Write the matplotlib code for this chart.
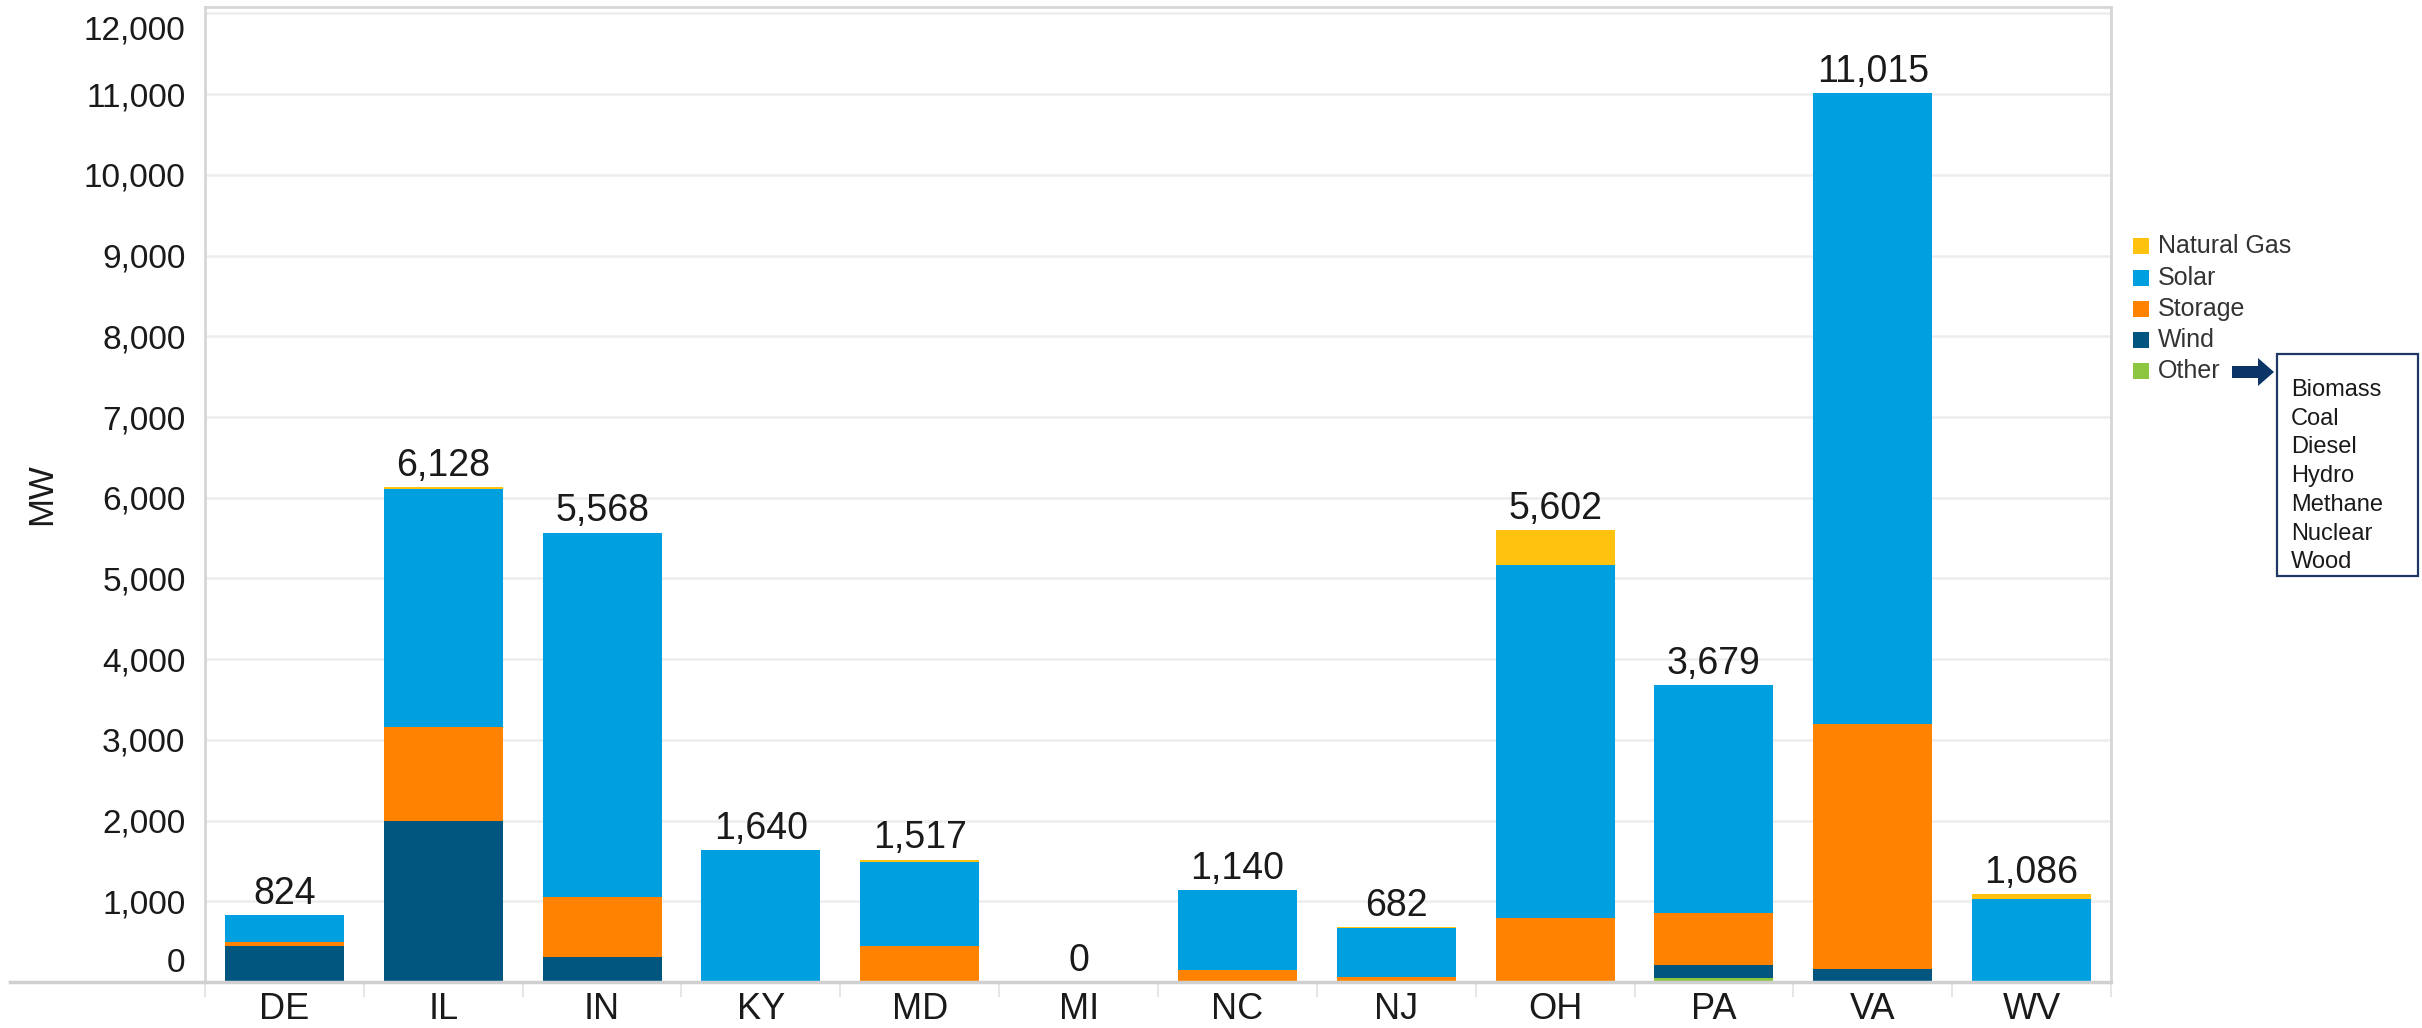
import matplotlib
matplotlib.use("Agg")
import matplotlib.pyplot as plt
import matplotlib.transforms as mtransforms
from matplotlib.patches import Rectangle, Polygon
from matplotlib.lines import Line2D
import numpy as np

plt.rcParams['font.family'] = ['Liberation Sans', 'DejaVu Sans']

# ---------------- data ----------------
states = ['DE', 'IL', 'IN', 'KY', 'MD', 'MI', 'NC', 'NJ', 'OH', 'PA', 'VA', 'WV']
other = [0, 0, 0, 0, 0, 0, 0, 0, 0, 46, 0, 0]
wind = [450, 2000, 312, 0, 0, 0, 0, 0, 0, 169, 160, 0]
storage = [42, 1164, 742, 15, 450, 0, 154, 62, 792, 646, 3040, 0]
solar = [332, 2940, 4514, 1625, 1037, 0, 986, 610, 4371, 2818, 7815, 1033]
natural_gas = [0, 24, 0, 0, 30, 0, 0, 10, 439, 0, 0, 53]

series_names = ['Other', 'Wind', 'Storage', 'Solar', 'Natural Gas']
series_values = [other, wind, storage, solar, natural_gas]
series_colors = ['#8DC63F', '#00567F', '#FF8300', '#00A0E0', '#FFC20E']

other_types = ['Biomass', 'Coal', 'Diesel', 'Hydro', 'Methane', 'Nuclear', 'Wood']
y_ticks = list(range(0, 12001, 1000))

# ---------------- figure ----------------
W, H = 2422, 1028
DPI = 100
fig = plt.figure(figsize=(W / DPI, H / DPI), dpi=DPI)
fig.patch.set_facecolor('white')

def fx(px):
    return px / W

def fy(py):
    return 1 - py / H

ax_left, ax_right, ax_top, ax_bottom = 205, 2111, 7, 982
ax = fig.add_axes([fx(ax_left), fy(ax_bottom), fx(ax_right - ax_left), (ax_bottom - ax_top) / H])

x = np.arange(len(states))
bottom = np.zeros(len(states))
for name, vals, col in zip(series_names, series_values, series_colors):
    v = np.array(vals, dtype=float)
    ax.bar(x, v, bottom=bottom, width=0.75, color=col, edgecolor='none', zorder=3, label=name)
    bottom += v

totals = bottom
for xi, t in zip(x, totals):
    ax.annotate(f"{int(round(t)):,}", (xi, t), xytext=(0, 8), textcoords='offset points',
                ha='center', va='baseline', fontsize=27, color='#1a1a1a', zorder=5)

ax.set_xlim(-0.5, len(states) - 0.5)
ax.set_ylim(0, 12080)
ax.set_yticks(y_ticks)
ax.set_yticklabels([f"{v:,}" for v in y_ticks])
ax.set_xticks(x)
ax.set_xticklabels(states)
ax.set_xticks(np.arange(-0.5, len(states), 1.0), minor=True)

ax.tick_params(axis='y', length=0, pad=14, labelsize=24, labelcolor='#1a1a1a')
ax.tick_params(axis='x', which='major', length=0, pad=7, labelsize=26, labelcolor='#1a1a1a')
ax.tick_params(axis='x', which='minor', length=11, width=1.2, color='#E2E2E2', direction='out')

# shift edge y tick labels like the reference
labels = ax.get_yticklabels()
labels[0].set_transform(labels[0].get_transform() + mtransforms.ScaledTranslation(0, 22 / DPI, fig.dpi_scale_trans))
labels[-1].set_transform(labels[-1].get_transform() + mtransforms.ScaledTranslation(0, -14 / DPI, fig.dpi_scale_trans))

ax.grid(axis='y', color='#EDEDED', linewidth=1.8, zorder=0)
ax.set_axisbelow(True)
for s in ['left', 'top', 'right']:
    ax.spines[s].set_color('#D6D6D6')
    ax.spines[s].set_linewidth(2)
ax.spines['bottom'].set_visible(False)

# baseline extended to the left
fig.add_artist(Line2D([fx(10), fx(ax_right)], [fy(ax_bottom), fy(ax_bottom)],
                      color='#D0D0D0', linewidth=2.5, zorder=4))

ax.set_ylabel('MW', fontsize=25, color='#1a1a1a')
ax.yaxis.set_label_coords(-0.077, 0.5)

# ---------------- legend ----------------
legend_rows_y = [246, 278, 309, 340, 371]
for (name, col), ry in zip(reversed(list(zip(series_names, series_colors))), legend_rows_y):
    fig.add_artist(Rectangle((fx(2133), fy(ry + 8)), fx(16), 16 / H, transform=fig.transFigure,
                             facecolor=col, edgecolor='none'))
    fig.text(fx(2158), fy(ry), name, fontsize=18, color='#333333', va='center', ha='left')

# arrow from "Other"
ay = 372
pts = [(2232, ay - 6), (2258, ay - 6), (2258, ay - 14), (2274, ay), (2258, ay + 14), (2258, ay + 6), (2232, ay + 6)]
fig.add_artist(Polygon([(fx(px), fy(py)) for px, py in pts], closed=True, transform=fig.transFigure,
                       facecolor='#0B3566', edgecolor='none'))

# box with other types
fig.add_artist(Rectangle((fx(2277), fy(576)), fx(2418 - 2277), (576 - 354) / H, transform=fig.transFigure,
                         facecolor='white', edgecolor='#1F3864', linewidth=1.6))
for i, t in enumerate(other_types):
    fig.text(fx(2291), fy(390 + i * 28.7), t, fontsize=17, color='#1a1a1a', va='center', ha='left')

fig.savefig('out.png', dpi=DPI, facecolor='white')
